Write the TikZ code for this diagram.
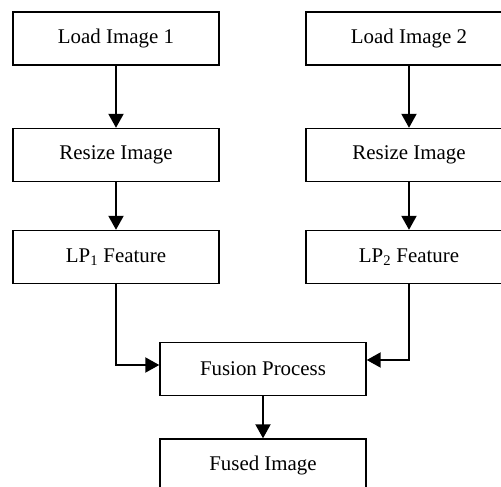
\documentclass[tikz,border=0pt]{standalone}
\usepackage{fontspec}
\setmainfont{Liberation Serif}
\usetikzlibrary{arrows.meta}
\tikzset{
  box/.style={draw=black, line width=1.4pt, minimum width=206pt, minimum height=53pt, inner sep=0pt, font=\fontsize{20.9}{24}\selectfont},
  arr/.style={line width=2pt, -{Triangle[length=14pt,width=15pt]}}
}
\begin{document}
\begin{tikzpicture}[x=1pt,y=-1pt]
\useasboundingbox (0,0) rectangle (501,487);
\clip (0,0) rectangle (501,487);
\node[box] (l1) at (116,38.5) {Load Image 1};
\node[box] (r1) at (116,155) {Resize Image};
\node[box] (p1) at (116,257) {LP\textsubscript{1} Feature};
\node[box] (l2) at (409,38.5) {Load Image 2};
\node[box] (r2) at (409,155) {Resize Image};
\node[box] (p2) at (409,257) {LP\textsubscript{2} Feature};
\node[box] (fu) at (263,369) {Fusion Process};
\node[box] (fd) at (263,465.5) {Fused Image};
\draw[arr] (l1) -- (r1);
\draw[arr] (r1) -- (p1);
\draw[arr] (l2) -- (r2);
\draw[arr] (r2) -- (p2);
\draw[arr] (p1.south) |- ([yshift=4pt]fu.west);
\draw[arr] (p2.south) |- ([yshift=9pt]fu.east);
\draw[arr] (fu) -- (fd);
\end{tikzpicture}
\end{document}
